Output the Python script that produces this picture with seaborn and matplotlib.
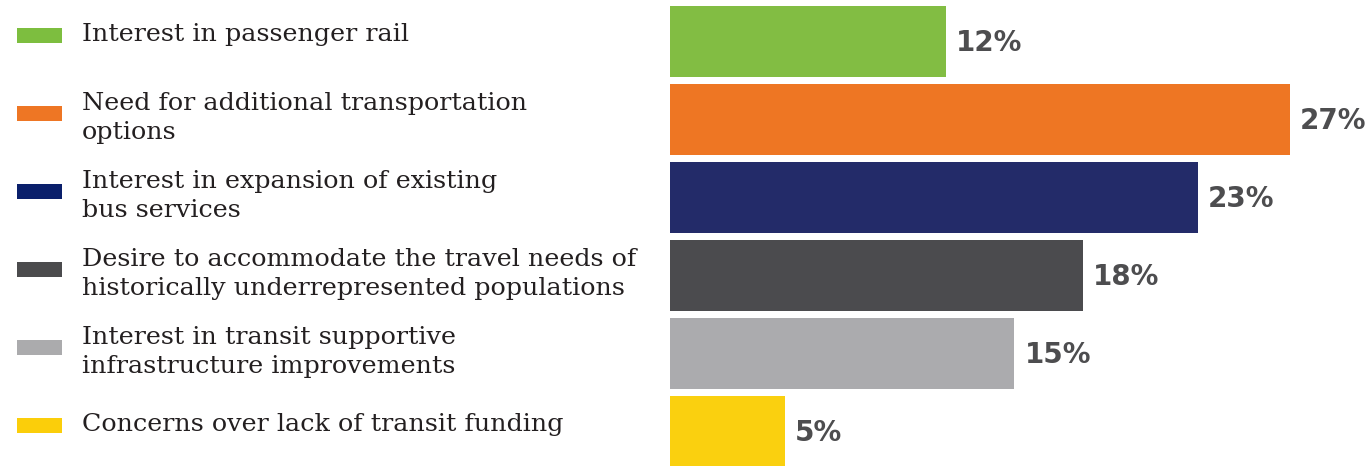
import pandas as pd
import numpy as np
import matplotlib.pyplot as plt
import seaborn as sns
from matplotlib.patches import Rectangle

# Data
categories = [
    "Interest in passenger rail",
    "Need for additional transportation\noptions",
    "Interest in expansion of existing\nbus services",
    "Desire to accommodate the travel needs of\nhistorically underrepresented populations",
    "Interest in transit supportive\ninfrastructure improvements",
    "Concerns over lack of transit funding",
]
shares = [12, 27, 23, 18, 15, 5]
bar_colors = ["#82BD43", "#EE7623", "#232B69", "#4B4B4E", "#ABABAE", "#FAD00F"]
key_colors = ["#7DBE3F", "#EE7624", "#0A1F6B", "#4B4B4D", "#ABABAD", "#FBCE0A"]

df = pd.DataFrame({"category": categories, "share": shares})

sns.set_theme(style="white")

W, H = 1371, 466
fig = plt.figure(figsize=(W / 100, H / 100), dpi=100)

# bar area (pixel layout of the reference)
ax = fig.add_axes([670 / W, 0, (W - 670) / W, 1])
sns.barplot(data=df, y="category", x="share", hue="category",
            palette=bar_colors, saturation=1, dodge=False, legend=False,
            width=0.91, linewidth=0, orient="h", ax=ax)

px_per_unit = 22.96
pitch = 78.0
first_center = 41.5
ax.set_xlim(0, (W - 670) / px_per_unit)
ax.set_ylim((H - first_center) / pitch, -first_center / pitch)
ax.axis("off")

gap = 10 / px_per_unit
for i, v in enumerate(shares):
    ax.text(v + gap, i + 0.02, f"{v}%", va="center", ha="left",
            fontsize=20, fontweight="bold", color="#4D4D4F",
            family="DejaVu Sans")

# legend area, same vertical scale
lax = fig.add_axes([0, 0, 660 / W, 1])
lax.set_xlim(0, 660)
lax.set_ylim(ax.get_ylim())
lax.axis("off")

key_off = -6.5 / pitch
for i, (lab, c) in enumerate(zip(categories, key_colors)):
    yc = i + key_off
    lax.add_patch(Rectangle((17, yc - 7.5 / pitch), 45, 15 / pitch,
                            facecolor=c, edgecolor="none"))
    shift = 5 / pitch if "\n" in lab else 0
    lax.text(82, yc + shift, lab, va="center", ha="left", fontsize=18.3,
             color="#231F20", family=["DejaVu Serif"], linespacing=1.32)

fig.savefig("out.png", dpi=100)
